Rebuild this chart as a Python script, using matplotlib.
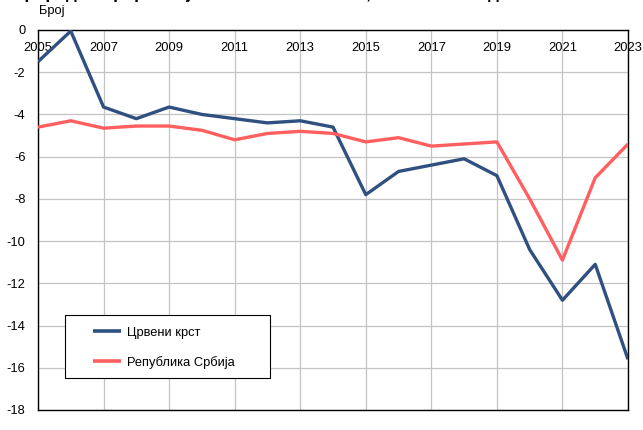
import matplotlib.pyplot as plt
from matplotlib.patches import Rectangle

plt.rcParams["font.family"] = ["Liberation Sans", "DejaVu Sans"]

years = list(range(2005, 2024))
crveni_krst = [-1.5, -0.05, -3.65, -4.2, -3.65, -4.0, -4.2, -4.4, -4.3, -4.6,
               -7.8, -6.7, -6.4, -6.1, -6.9, -10.4, -12.8, -11.1, -15.6]
srbija = [-4.6, -4.3, -4.65, -4.55, -4.55, -4.75, -5.2, -4.9, -4.8, -4.9,
          -5.3, -5.1, -5.5, -5.4, -5.3, -8.0, -10.9, -7.0, -5.4]
series_names = ["Црвени крст", "Република Србија"]
x_ticks = list(range(2005, 2024, 2))
y_ticks = list(range(-18, 1, 2))

FS = 9.3
W, H = 643, 430

fig = plt.figure(figsize=(W / 100, H / 100), dpi=100)
ax = fig.add_axes([38 / W, 20 / H, 590 / W, 380 / H])

ax.plot(years, crveni_krst, color="#2F5080", lw=2.4, label=series_names[0],
        solid_capstyle="butt", zorder=3)
ax.plot(years, srbija, color="#FF5F5F", lw=2.4, label=series_names[1],
        solid_capstyle="butt", zorder=3)

ax.set_xlim(2005, 2023)
ax.set_ylim(-18, 0)
ax.set_xticks(x_ticks)
ax.set_yticks(y_ticks)
ax.set_yticklabels([str(v) for v in y_ticks], fontsize=FS)
ax.set_xticklabels([str(v) for v in x_ticks], fontsize=FS)
ax.xaxis.tick_top()
ax.tick_params(axis="x", length=0, pad=-17)
ax.tick_params(axis="y", length=0, pad=9)
ax.grid(True, color="#C4C4C4", lw=0.9, zorder=0)
for s in ax.spines.values():
    s.set_color("black")
    s.set_linewidth(1.0)

# axis unit label above the plot
ax.annotate("Број", xy=(0, 1), xycoords="axes fraction", xytext=(1, 13.5),
            textcoords="offset points", fontsize=FS, ha="left", va="center")
# title sits mostly above the canvas, as in the source image
fig.text(12 / W, 1 + 0.8 / H,
         "Природни прираштај на 1.000 становника, 2005–2023. године",
         fontsize=12.3, fontweight="bold", ha="left", va="baseline")

# legend frame drawn by hand, entries placed inside it
ax.add_patch(Rectangle((27 / 590, 32 / 380), 205 / 590, 63 / 380,
                       transform=ax.transAxes, facecolor="white",
                       edgecolor="black", lw=0.8, zorder=4))
leg = ax.legend(loc="upper left", bbox_to_anchor=(55 / 590, 83.5 / 380),
                fontsize=FS, frameon=False, borderpad=0, borderaxespad=0,
                handlelength=2.2, labelspacing=1.32, handletextpad=0.47)
leg.set_zorder(5)
for line in leg.get_lines():
    line.set_linewidth(2.6)

fig.savefig("out.png", dpi=100)
